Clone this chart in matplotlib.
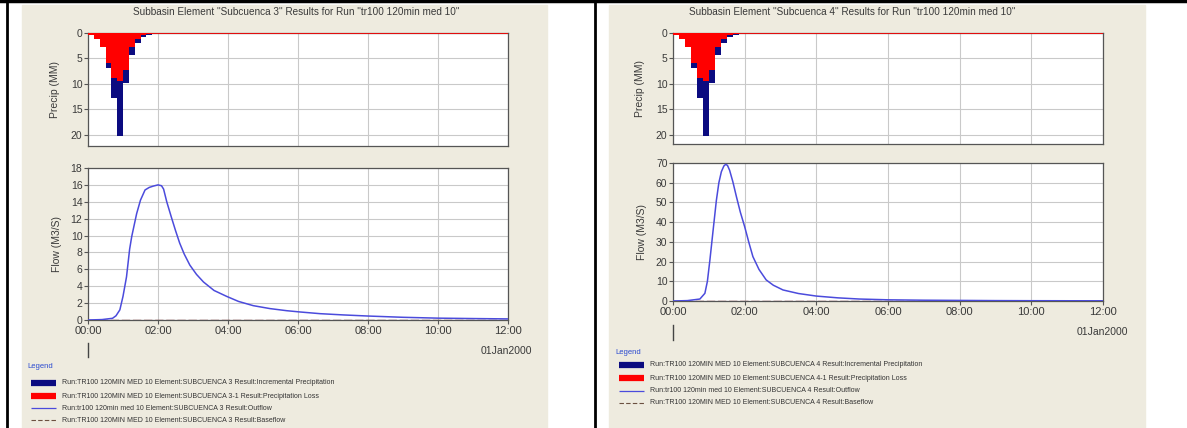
import matplotlib
matplotlib.use("Agg")
import matplotlib.pyplot as plt
from matplotlib.lines import Line2D
from matplotlib.patches import Rectangle
from matplotlib.ticker import FuncFormatter

W, H = 1187, 428
plt.rcParams['font.family'] = ['Liberation Sans', 'DejaVu Sans']

# hyetograph, 10 min blocks (start minute)
precip_start_min = [0, 10, 20, 30, 40, 50, 60, 70, 80, 90, 100]
incr_precip = [0.3, 1.2, 2.7, 6.9, 12.8, 20.3, 9.9, 4.3, 2.0, 0.8, 0.3]
precip_loss = [0.3, 1.1, 2.7, 5.9, 8.8, 9.4, 7.2, 2.7, 1.1, 0.45, 0.1]

# outflow subcuenca 3
q3_hours = [0, 0.4, 0.7, 0.8, 0.91, 1.0, 1.1, 1.19, 1.25, 1.39, 1.5, 1.63, 1.75, 1.86,
            2.0, 2.1, 2.16, 2.25, 2.38, 2.5, 2.62, 2.75, 2.91, 3.1, 3.3, 3.6, 3.96,
            4.3, 4.72, 5.2, 5.68, 6.06, 6.63, 7.3, 8.0, 9.0, 10.0, 11.0, 12.0]
q3_flow = [0, 0.05, 0.2, 0.5, 1.2, 2.8, 5.1, 8.4, 9.9, 12.6, 14.2, 15.4, 15.7, 15.85,
           16.0, 15.9, 15.5, 14.0, 12.2, 10.6, 9.1, 7.8, 6.5, 5.4, 4.5, 3.5, 2.8,
           2.2, 1.7, 1.35, 1.1, 0.95, 0.75, 0.6, 0.47, 0.32, 0.22, 0.17, 0.13]

# outflow subcuenca 4
q4_hours = [0, 0.4, 0.75, 0.89, 0.96, 1.03, 1.12, 1.21, 1.28, 1.35, 1.42, 1.47, 1.52,
            1.58, 1.67, 1.77, 1.88, 2.0, 2.12, 2.23, 2.4, 2.6, 2.8, 3.07, 3.5, 4.0,
            4.6, 5.2, 6.0, 7.0, 8.0, 9.0, 10.0, 11.0, 12.0]
q4_flow = [0, 0.2, 1.0, 3.9, 10, 20.8, 36, 51, 60, 65.6, 68.5, 69.3, 68.8, 66.3, 60.5,
           52.9, 45, 37.7, 29.5, 22.5, 16, 10.7, 8.0, 5.6, 3.8, 2.5, 1.6, 1.0, 0.6,
           0.4, 0.3, 0.2, 0.15, 0.12, 0.1]

time_ticks = [0, 2, 4, 6, 8, 10, 12]

BEIGE = '#eeebdf'
TXT = '#3a3a3a'
GRID = '#c9c9c9'


def rect(x0, y0, x1, y1):
    return [x0 / W, 1 - y1 / H, (x1 - x0) / W, (y1 - y0) / H]


def fx(x):
    return x / W


def fy(y):
    return 1 - y / H


def style(ax):
    ax.set_facecolor('white')
    for s in ax.spines.values():
        s.set_color('#555555')
        s.set_linewidth(0.9)
    ax.tick_params(colors='#555555', labelcolor=TXT, labelsize=7.5, length=3, width=0.8, pad=1)
    ax.grid(True, color=GRID, lw=0.8)
    ax.set_axisbelow(True)
    ax.set_xlim(0, 12)
    ax.set_xticks(time_ticks)


fig = plt.figure(figsize=(W / 100, H / 100), dpi=100)
fig.patch.set_facecolor('white')

panels = [
    dict(bg=(22, 5, 547, 428), x0=88, x1=508, p=(33, 146, 22.2), f=(168, 320),
         fmax=18, fstep=2, flow=(q3_hours, q3_flow), title_x=296, name='3',
         date=(506, 351), mark=(343, 357), leg_y=(367, 383, 396, 408, 420), leg_x=27),
    dict(bg=(609, 5, 1145, 428), x0=673, x1=1103, p=(33, 144, 21.8), f=(163, 301),
         fmax=70, fstep=10, flow=(q4_hours, q4_flow), title_x=852, name='4',
         date=(1102, 332), mark=(325, 340), leg_y=(352, 365, 378, 391, 403), leg_x=615),
]

for pn in panels:
    bx0, by0, bx1, by1 = pn['bg']
    fig.add_artist(Rectangle((fx(bx0), fy(by1)), (bx1 - bx0) / W, (by1 - by0) / H,
                             transform=fig.transFigure, color=BEIGE, zorder=0))
    n = pn['name']
    fig.text(fx(pn['title_x']), fy(12),
             'Subbasin Element "Subcuenca %s" Results for Run "tr100 120min med 10"' % n,
             ha='center', va='center', fontsize=7.2, color=TXT)

    # precipitation
    ptop, pbot, pmax = pn['p']
    axp = fig.add_axes(rect(pn['x0'], ptop, pn['x1'], pbot))
    style(axp)
    starts = [m / 60 for m in precip_start_min]
    axp.bar(starts, incr_precip, width=1 / 6, align='edge', color='#0b0b80', lw=0, zorder=2)
    axp.bar(starts, precip_loss, width=1 / 6, align='edge', color='#ff0000', lw=0, zorder=3)
    axp.axhline(0, color='#ff0000', lw=1.2, zorder=4)
    axp.set_ylim(pmax, 0)
    axp.set_yticks([0, 5, 10, 15, 20])
    axp.tick_params(axis='x', labelbottom=False, length=0)
    axp.set_ylabel('Precip (MM)', fontsize=7.5, color=TXT, labelpad=8)

    # flow
    ftop, fbot = pn['f']
    axf = fig.add_axes(rect(pn['x0'], ftop, pn['x1'], fbot))
    style(axf)
    hrs, q = pn['flow']
    axf.plot(hrs, q, color='#4b4bdc', lw=1.1, zorder=3)
    axf.plot([0, 12], [0, 0], color='#8b3030', lw=1.0, ls=(0, (6, 2)), zorder=2)
    axf.set_ylim(0, pn['fmax'])
    axf.set_yticks(range(0, pn['fmax'] + 1, pn['fstep']))
    axf.xaxis.set_major_formatter(FuncFormatter(lambda v, p: '%02d:00' % int(v)))
    axf.tick_params(axis='x', labelsize=8)
    axf.set_ylabel('Flow (M3/S)', fontsize=7.5, color=TXT, labelpad=6)
    dx, dy = pn['date']
    fig.text(fx(dx), fy(dy), '01Jan2000', ha='center', va='center', fontsize=7.5, color=TXT)
    m0, m1 = pn['mark']
    fig.add_artist(Line2D([fx(pn['x0'])] * 2, [fy(m0), fy(m1)], color='#444444', lw=1.0))

    # legend
    lx = pn['leg_x']
    ly = pn['leg_y']
    fig.text(fx(lx), fy(ly[0]), 'Legend', fontsize=5.5, color='#2a4ad0', va='center')
    labels = [
        'Run:TR100 120MIN MED 10 Element:SUBCUENCA %s Result:Incremental Precipitation' % n,
        'Run:TR100 120MIN MED 10 Element:SUBCUENCA %s-1 Result:Precipitation Loss' % n,
        'Run:tr100 120min med 10 Element:SUBCUENCA %s Result:Outflow' % n,
        'Run:TR100 120MIN MED 10 Element:SUBCUENCA %s Result:Baseflow' % n,
    ]
    styles = [('#0b0b80', 4.5, '-'), ('#ff0000', 4.5, '-'), ('#4b4bdc', 0.9, '-'),
              ('#6b5040', 0.8, (0, (4, 2)))]
    for yy, lab, (c, lw, ls) in zip(ly[1:], labels, styles):
        fig.add_artist(Line2D([fx(lx + 4), fx(lx + 29)], [fy(yy), fy(yy)], color=c, lw=lw,
                              ls=ls, solid_capstyle='butt'))
        fig.text(fx(lx + 35), fy(yy), lab, fontsize=5.0, color='#333333', va='center')

# table borders
fig.add_artist(Line2D([0, 1], [fy(1), fy(1)], color='black', lw=2.5))
fig.add_artist(Line2D([fx(7), fx(7)], [0, 1], color='black', lw=2))
fig.add_artist(Line2D([fx(595), fx(595)], [0, 1], color='black', lw=2))

fig.savefig('out.png', dpi=100)
